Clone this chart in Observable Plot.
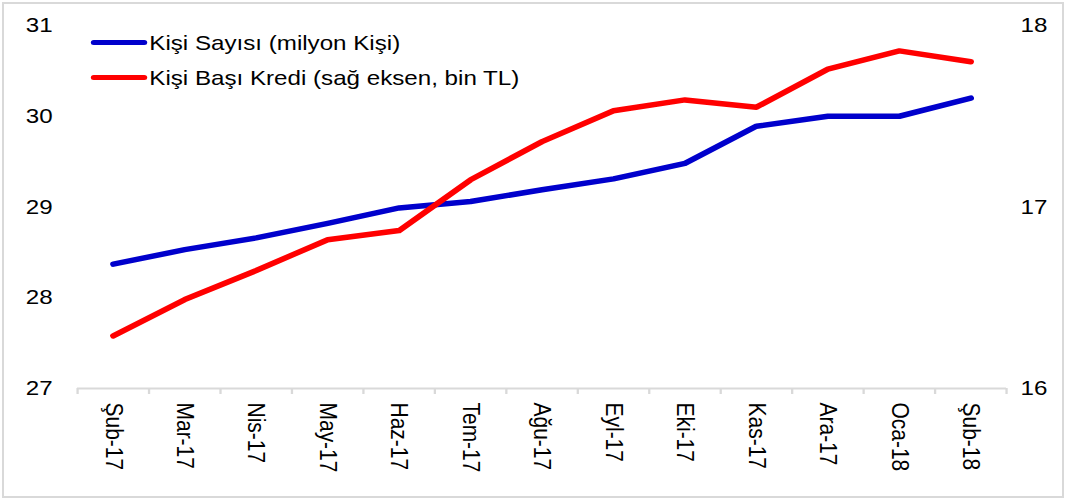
<!DOCTYPE html>
<html>
<head>
<meta charset="utf-8">
<script src="https://cdn.jsdelivr.net/npm/d3@7"></script>
<script src="https://cdn.jsdelivr.net/npm/@observablehq/plot@0.6"></script>
<style>
  html, body { margin: 0; padding: 0; background: #fff; }
  #frame { position: absolute; left: 2px; top: 2px; width: 1062px; height: 496px; border: 2px solid #d9d9d9; box-sizing: border-box; }
  #stage { position: absolute; left: 0; top: 0; height: 501px; transform-origin: 0 0; font-family: "Liberation Sans", Arial, sans-serif; }
  #legend { position: absolute; font-size: 21px; color: #000; line-height: 35px; }
  #legend .row { display: flex; align-items: center; white-space: nowrap; }
  #legend .sw { height: 5px; border-radius: 3px; margin-right: 2px; }
</style>
</head>
<body>
<div id="frame"></div>
<div id="stage"><div id="legend"></div></div>
<script>
const months = ["Şub-17","Mar-17","Nis-17","May-17","Haz-17","Tem-17","Ağu-17","Eyl-17","Eki-17","Kas-17","Ara-17","Oca-18","Şub-18"];
const persons = [28.37, 28.53, 28.66, 28.82, 28.99, 29.06, 29.19, 29.31, 29.48, 29.89, 30.0, 30.0, 30.2];
const creditPerPerson = [16.29, 16.49, 16.65, 16.82, 16.87, 17.15, 17.36, 17.53, 17.59, 17.55, 17.76, 17.86, 17.80];
const leftTicks = [27, 28, 29, 30, 31];
const rightTicks = [16, 17, 18];
const seriesNames = ["Kişi Sayısı (milyon Kişi)", "Kişi Başı Kredi (sağ eksen, bin TL)"];
const seriesColors = ["#0000CC", "#FF0000"];

const S = 1.15;            // horizontal stretch of the reference rendering
const W = 1067 / S;
const fontSize = 21;

// map right-axis values onto left-axis domain
const toLeft = v => 27 + (v - 16) * 2;
const fromLeft = y => 16 + (y - 27) / 2;

const data = months.map((m, i) => ({i, m, p: persons[i], c: toLeft(creditPerPerson[i])}));
const idx = d3.range(months.length);
const bounds = d3.range(months.length + 1).map(i => i - 0.5);

const chart = Plot.plot({
  width: W,
  height: 501,
  marginLeft: 77 / S,
  marginRight: 61 / S,
  marginTop: 25,
  marginBottom: 113,
  style: {fontFamily: '"Liberation Sans", Arial, sans-serif', fontSize: fontSize + "px", color: "#000", background: "transparent", overflow: "visible"},
  x: {type: "linear", domain: [-0.5, months.length - 0.5]},
  y: {domain: [27, 31]},
  marks: [
    Plot.ruleY([27], {stroke: "#d9d9d9", strokeWidth: 2}),
    Plot.axisX({ticks: bounds, tickSize: 6, stroke: "#d9d9d9", strokeWidth: 2, tickFormat: () => "", label: null}),
    Plot.axisX({ticks: idx, tickSize: 0, tickPadding: 14, tickRotate: 90, tickFormat: i => months[i], label: null, fontSize: fontSize}),
    Plot.axisY({ticks: leftTicks, tickSize: 0, tickPadding: 25 / S, tickFormat: d => String(d), label: null, fontSize: fontSize}),
    Plot.axisY({anchor: "right", ticks: rightTicks.map(toLeft), tickSize: 0, tickPadding: 14 / S, tickFormat: y => String(Math.round(fromLeft(y))), label: null, fontSize: fontSize}),
    Plot.line(data, {x: "i", y: "p", stroke: seriesColors[0], strokeWidth: 5.5, strokeLinecap: "round", strokeLinejoin: "round"}),
    Plot.line(data, {x: "i", y: "c", stroke: seriesColors[1], strokeWidth: 5.5, strokeLinecap: "round", strokeLinejoin: "round"})
  ]
});

const stage = document.getElementById("stage");
stage.style.width = W + "px";
stage.style.transform = `scaleX(${S})`;
stage.insertBefore(chart, stage.firstChild);

const legend = document.getElementById("legend");
legend.style.left = (91 / S) + "px";
legend.style.top = "25px";
seriesNames.forEach((name, k) => {
  const row = document.createElement("div");
  row.className = "row";
  const sw = document.createElement("div");
  sw.className = "sw";
  sw.style.width = (56 / S) + "px";
  sw.style.background = seriesColors[k];
  const t = document.createElement("span");
  t.textContent = name;
  row.appendChild(sw);
  row.appendChild(t);
  legend.appendChild(row);
});
</script>
</body>
</html>
